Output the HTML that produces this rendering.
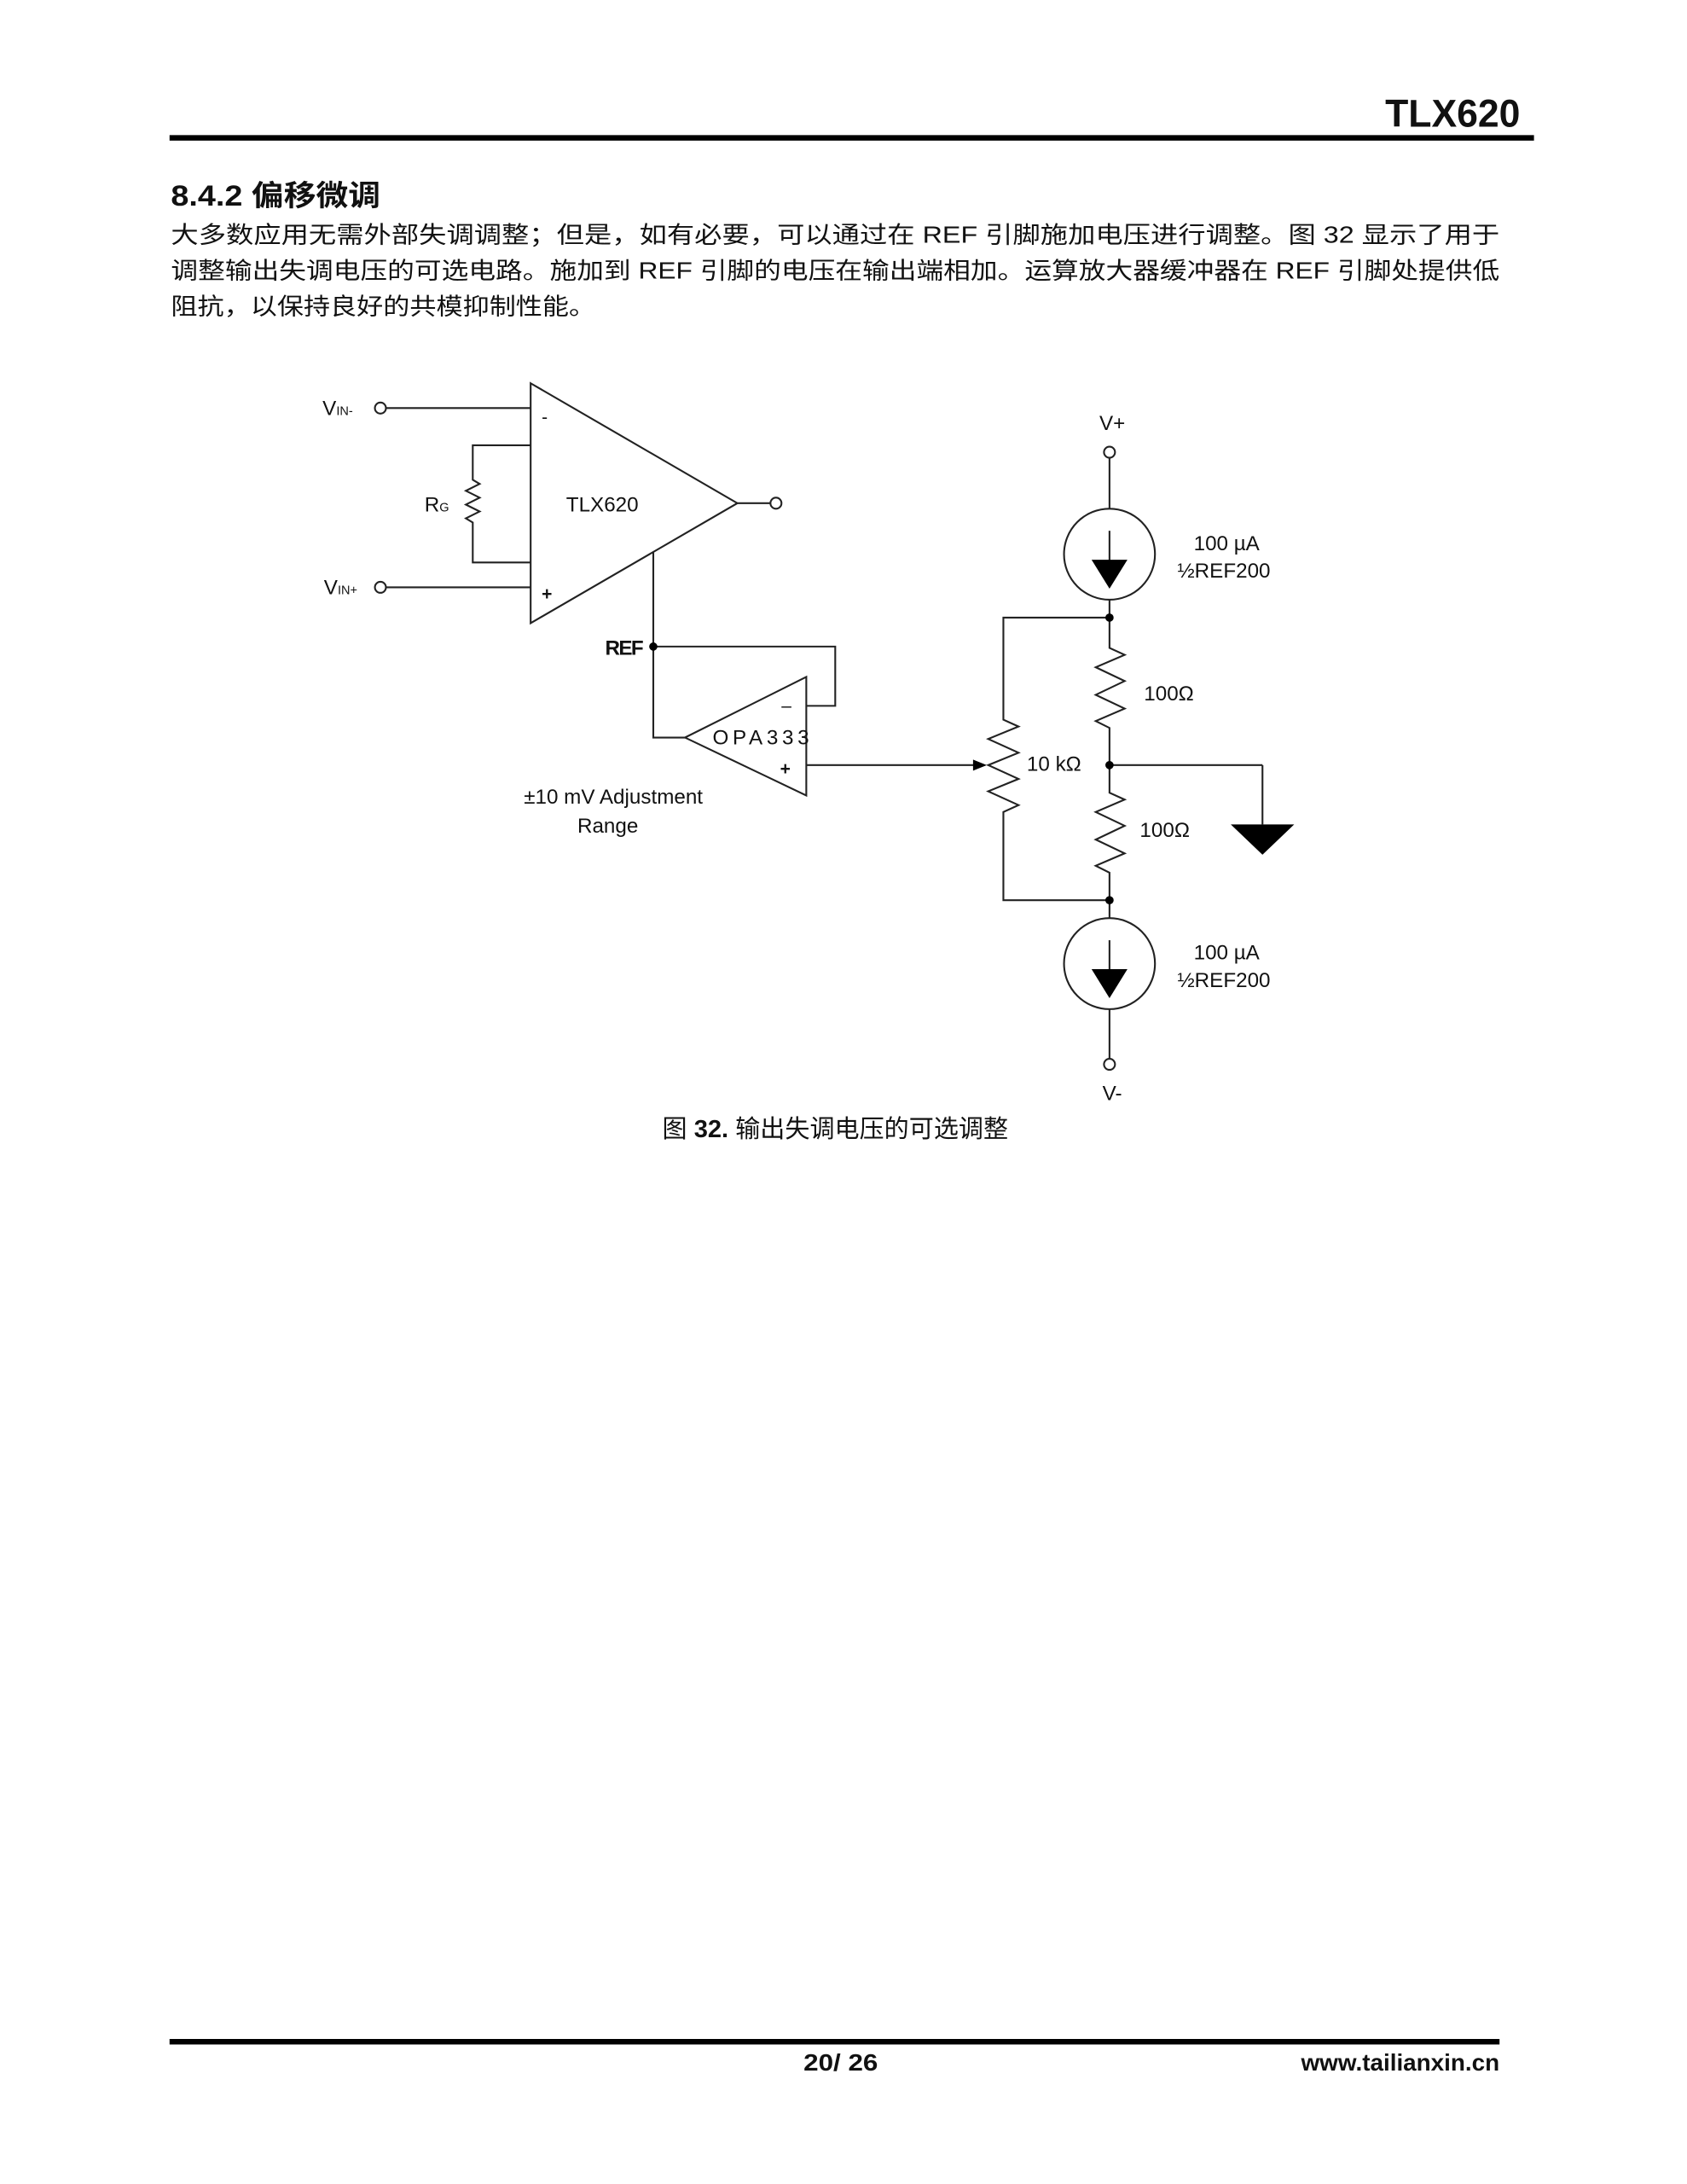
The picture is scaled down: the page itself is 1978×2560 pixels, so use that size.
<!DOCTYPE html>
<html><head><meta charset="utf-8"><style>
html,body{margin:0;padding:0;background:#fff;}
svg{display:block;}
text{font-family:"Liberation Sans","Noto Sans CJK SC",sans-serif;fill:#111;}
</style></head><body>
<svg width="1978" height="2560" viewBox="0 0 1224 1584.2" xmlns="http://www.w3.org/2000/svg">
<rect width="1224" height="1584.2" fill="#fff"/>
<!-- header -->
<text x="1103" y="92" font-size="28" font-weight="bold" text-anchor="end" textLength="98" lengthAdjust="spacingAndGlyphs">TLX620</text>
<rect x="123" y="98" width="990" height="4" fill="#000"/>
<text x="124" y="149" font-size="21" font-weight="bold" textLength="152" lengthAdjust="spacingAndGlyphs">8.4.2 偏移微调</text>
<text x="124" y="176" font-size="17" textLength="964" lengthAdjust="spacingAndGlyphs">大多数应用无需外部失调调整；但是，如有必要，可以通过在 REF 引脚施加电压进行调整。图 32 显示了用于</text>
<text x="124" y="202" font-size="17" textLength="964" lengthAdjust="spacingAndGlyphs">调整输出失调电压的可选电路。施加到 REF 引脚的电压在输出端相加。运算放大器缓冲器在 REF 引脚处提供低</text>
<text x="124" y="228" font-size="17" textLength="308" lengthAdjust="spacingAndGlyphs">阻抗，以保持良好的共模抑制性能。</text>

<g stroke="#222" stroke-width="1.3" fill="none">
<!-- TLX620 -->
<polygon points="385,278 535,365 385,452"/>
<line x1="280" y1="296" x2="385" y2="296"/>
<line x1="280" y1="426" x2="385" y2="426"/>
<circle cx="276" cy="296" r="4"/>
<circle cx="276" cy="426" r="4"/>
<polyline points="385,323 343,323 343,348 348,351 338,356 348,361 338,366 348,371 338,376 343,379 343,408 385,408"/>
<line x1="535" y1="365" x2="559" y2="365"/>
<circle cx="563" cy="365" r="4"/>
<!-- REF -->
<polyline points="474,400 474,535 497,535"/>
<polyline points="474,469 606,469 606,512 585,512"/>
<!-- OPA333 -->
<polygon points="585,491 585,577 497,535"/>
<line x1="585" y1="555" x2="712" y2="555"/>
<!-- right -->
<line x1="805" y1="332" x2="805" y2="369"/>
<circle cx="805" cy="328" r="4"/>
<circle cx="805" cy="402" r="33"/>
<line x1="805" y1="385" x2="805" y2="408"/>
<polyline points="805,435 805,470 816,475 795,484 816,494 795,504 816,514 795,523 805,528 805,575 816,580 795,589 816,599 795,609 816,619 795,628 805,633 805,666"/>
<line x1="805" y1="555" x2="916" y2="555"/>
<line x1="916" y1="555" x2="916" y2="598"/>
<circle cx="805" cy="699" r="33"/>
<line x1="805" y1="682" x2="805" y2="705"/>
<line x1="805" y1="732" x2="805" y2="768"/>
<circle cx="805" cy="772" r="4"/>
<polyline points="805,448 728,448 728,522 739,527 717,536 739,546 717,555 739,565 717,574 739,584 728,589 728,653 805,653"/>
</g>
<g fill="#000">
<polygon points="792,406 818,406 805,427"/>
<polygon points="792,703 818,703 805,724"/>
<polygon points="893,598 939,598 916,620"/>
<polygon points="706,551 716,555 706,559"/>
<circle cx="474" cy="469" r="3"/>
<circle cx="805" cy="448" r="3"/>
<circle cx="805" cy="555" r="3"/>
<circle cx="805" cy="653" r="3"/>
</g>
<!-- diagram labels -->
<g font-size="15">
<text x="234" y="301">V<tspan font-size="9">IN-</tspan></text>
<text x="235" y="431">V<tspan font-size="9">IN+</tspan></text>
<text x="308" y="371">R<tspan font-size="9">G</tspan></text>
<text x="393" y="307" font-size="13">-</text>
<text x="393" y="435" font-size="13" font-weight="bold">+</text>
<text x="437" y="371" text-anchor="middle">TLX620</text>
<text x="466" y="475" text-anchor="end" font-weight="bold" letter-spacing="-1">REF</text>
<text x="567" y="516" font-size="13">–</text>
<text x="566" y="562" font-size="13" font-weight="bold">+</text>
<text x="517" y="540" textLength="70">OPA333</text>
<text x="445" y="583" text-anchor="middle">±10 mV Adjustment</text>
<text x="441" y="604" text-anchor="middle">Range</text>
<text x="807" y="312" text-anchor="middle">V+</text>
<text x="807" y="798" text-anchor="middle">V-</text>
<text x="890" y="399" text-anchor="middle">100 µA</text>
<text x="888" y="419" text-anchor="middle">½REF200</text>
<text x="890" y="696" text-anchor="middle">100 µA</text>
<text x="888" y="716" text-anchor="middle">½REF200</text>
<text x="830" y="508">100Ω</text>
<text x="745" y="559">10 kΩ</text>
<text x="827" y="607">100Ω</text>
</g>
<text x="606" y="825" font-size="18" text-anchor="middle" fill="#222"><tspan>图 </tspan><tspan font-weight="bold">32.</tspan><tspan> 输出失调电压的可选调整</tspan></text>
<!-- footer -->
<rect x="123" y="1479" width="965" height="4" fill="#000"/>
<text x="610" y="1502" font-size="17" font-weight="bold" text-anchor="middle" textLength="54" lengthAdjust="spacingAndGlyphs">20/ 26</text>
<text x="1088" y="1502" font-size="17" font-weight="bold" text-anchor="end" textLength="144" lengthAdjust="spacingAndGlyphs">www.tailianxin.cn</text>
</svg>
</body></html>
